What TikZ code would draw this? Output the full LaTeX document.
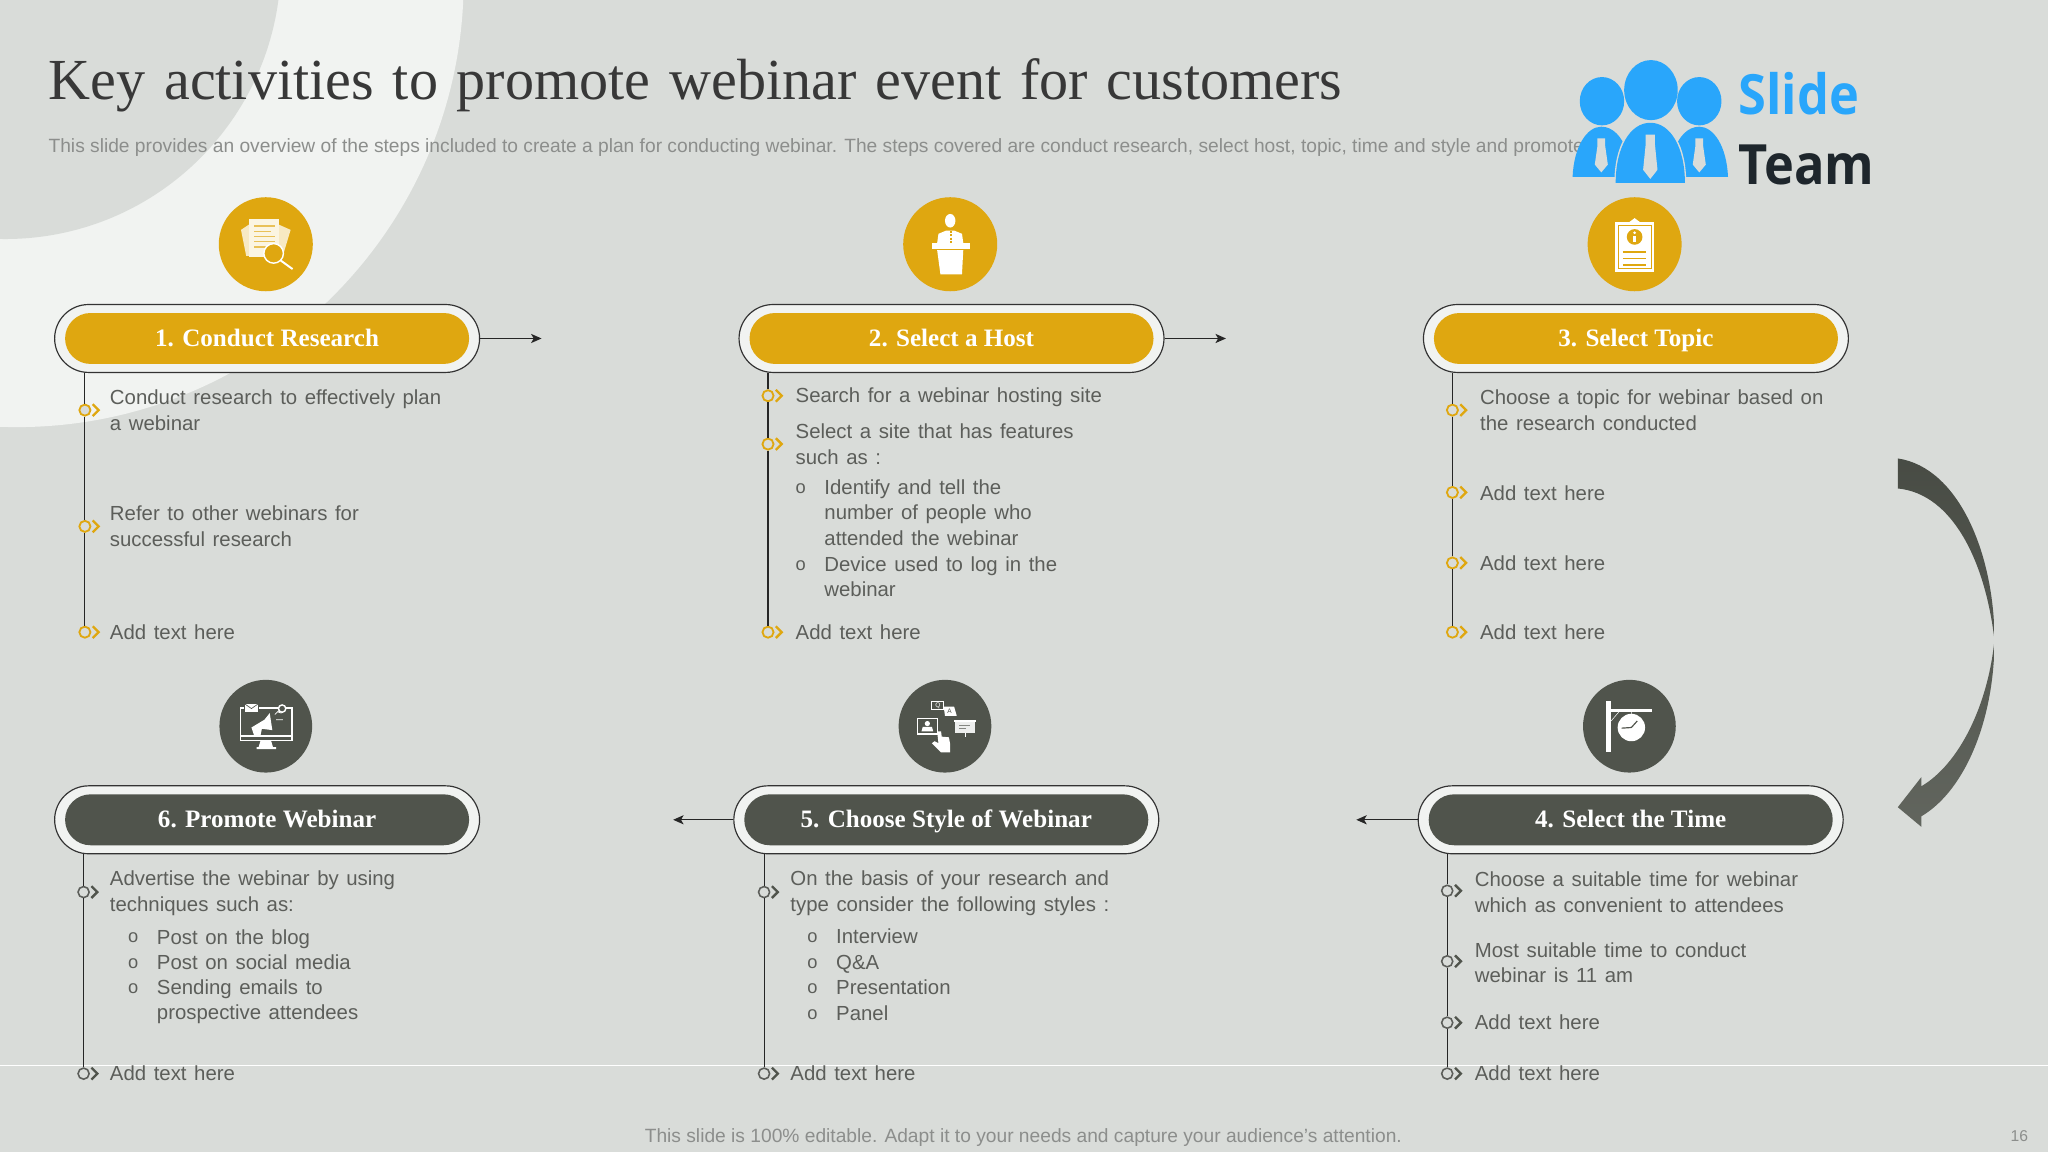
\documentclass[tikz,border=0pt]{standalone}
\usepackage{fontspec}
\setmainfont{Liberation Sans}
\newfontfamily\serifface{Liberation Serif}
\newfontfamily\logoface[FakeStretch=0.91]{Open Sans}
\usepackage{xcolor}
\usetikzlibrary{shapes.misc, arrows.meta, positioning}

\definecolor{slidebg}{HTML}{D9DCD9}
\definecolor{bandcol}{HTML}{F1F3F1}
\definecolor{goldcol}{HTML}{DFA710}
\definecolor{darkcol}{HTML}{50544C}
\definecolor{textcol}{HTML}{5C5E5A}
\definecolor{notecol}{HTML}{8C8E8C}
\definecolor{logoblue}{HTML}{29A6FB}
\definecolor{logoink}{HTML}{1E262C}

% wider word gaps than the fonts give
\newcommand{\titleface}{\serifface\fontsize{44.5}{50}\selectfont\spaceskip 14.4pt\relax}
\newcommand{\itemface}{\fontsize{15.6}{19.6}\selectfont\spaceskip 5.8pt\relax}

% ring on a rail, with its chevron
\newcommand{\railmark}[5]{
  \node[#4] (#1) at (#2,#3) {};
  \draw[#5] ([xshift=6pt,yshift=4.5pt]#1.center) -- ++(4.5,4.5) -- ++(-4.5,4.5);
}

\begin{document}
\begin{tikzpicture}[
    x=1pt, y=-1pt,
    node distance=9.5pt,
    pillout/.style={rounded rectangle, draw=black!80, line width=0.9pt, fill=bandcol, minimum width=332pt, minimum height=52pt, xshift=1pt},
    pillgold/.style={rounded rectangle, fill=goldcol, text=white, font=\serifface\bfseries\fontsize{19.2}{22}\selectfont, text height=16pt, text depth=4pt, minimum width=316pt, minimum height=39pt},
    pilldark/.style={pillgold, fill=darkcol},
    icongold/.style={circle, fill=goldcol, minimum size=72pt, inner sep=0pt},
    icondark/.style={circle, fill=darkcol, minimum size=71pt, inner sep=0pt},
    itemtext/.style={anchor=west, align=left, inner sep=0pt, text=textcol, font=\itemface},
    bullet/.style={anchor=center, inner sep=0pt, text=textcol, font=\fontsize{14}{16}\selectfont},
    ringgold/.style={circle, draw=goldcol, line width=1.4pt, fill=slidebg, minimum size=8.5pt, inner sep=0pt},
    ringdark/.style={circle, draw=textcol, line width=1.2pt, fill=slidebg, minimum size=8.5pt, inner sep=0pt},
    chevgold/.style={draw=goldcol, line width=1.8pt},
    chevdark/.style={draw=darkcol, line width=1.8pt},
    rail/.style={draw=black!85, line width=0.8pt},
    arrow/.style={-{Stealth[length=8pt,width=7pt,inset=2pt]}, draw=black!85, line width=0.9pt}
]
\useasboundingbox (0,0) rectangle (1568,882);

% Background
\fill[slidebg] (0,0) rectangle (1568,882);
\begin{scope}
\clip (0,0) rectangle (1568,882);
\fill[bandcol] (13,-15) circle (342);
\fill[slidebg] (4,-28) circle (211);
\end{scope}
\draw[white, line width=0.6pt] (0,816) -- (1568,816);

% Heading
\node[anchor=west, inner sep=0pt, font=\titleface, text=black!78] (title) at (37,65) {Key activities to promote webinar event for customers};
\node[anchor=west, inner sep=0pt, font=\fontsize{14.7}{18}\selectfont, text=notecol] (subtitle) at (37,113) {This slide provides an overview of the steps included to create a plan for conducting webinar. The steps covered are conduct research, select host, topic, time and style and promote on webinar};

% Logo
\fill[logoblue] (1226.5,77.5) ellipse (17 and 18.5);
\fill[logoblue] (1301,77.5) ellipse (17 and 18.5);
\fill[logoblue] (1204,135.5) .. controls (1205,112) and (1215,97) .. (1226,97) .. controls (1235,97) and (1242,105) .. (1245,115) -- (1245,135.5) -- cycle;
\fill[logoblue] (1323,135.5) .. controls (1322,112) and (1312,97) .. (1301,97) .. controls (1292,97) and (1285,105) .. (1282,115) -- (1282,135.5) -- cycle;
\fill[logoblue] (1264,69) ellipse (20.5 and 23);
\fill[slidebg] (1236,140) .. controls (1236,112) and (1247,93) .. (1263.5,93) .. controls (1280,93) and (1291,112) .. (1291,140) -- cycle;
\fill[logoblue] (1237,140) .. controls (1237,113) and (1248,94) .. (1263.5,94) .. controls (1279,94) and (1290,113) .. (1290,140) -- cycle;
\fill[slidebg] (1223,106) -- (1229,106) -- (1229,112) -- (1231,126) -- (1226,132) -- (1221,126) -- (1223,112) -- cycle;
\fill[slidebg] (1298,106) -- (1304,106) -- (1304,112) -- (1306,126) -- (1301,132) -- (1296,126) -- (1298,112) -- cycle;
\fill[slidebg] (1260,103) -- (1267,103) -- (1267,110) -- (1269,130) -- (1263.5,137) -- (1258,130) -- (1260,110) -- cycle;
\node[anchor=west, inner sep=0pt, font=\logoface\bfseries\fontsize{42.5}{44}\selectfont, text=logoblue] (logoa) at (1331,72) {Slide};
\node[anchor=west, inner sep=0pt, font=\logoface\bfseries\fontsize{42.5}{44}\selectfont, text=logoink] (logob) at (1331,126) {Team};

% Curved arrow
\shade[top color=darkcol!90!black, bottom color=darkcol!90!white] (1453,351) .. controls (1500,358) and (1527,425) .. (1527,490)
  .. controls (1527,550) and (1505,605) .. (1471,625) -- (1471,633) -- (1453,618) -- (1471,595) -- (1471,602)
  .. controls (1500,585) and (1522,540) .. (1527,490)
  .. controls (1520,430) and (1495,378) .. (1453,374) -- cycle;

% Upper row
\node[icongold] (icon1) at (203.5,187) {};
\node[icongold] (icon2) at (727.5,187) {};
\node[icongold] (icon3) at (1251.5,187) {};
\node[pillout, below=of icon1] (pout1) {};
\node[pillout, below=of icon2] (pout2) {};
\node[pillout, below=of icon3] (pout3) {};
\node[pillgold] (pin1) at (pout1) {1. Conduct Research};
\node[pillgold] (pin2) at (pout2) {2. Select a Host};
\node[pillgold] (pin3) at (pout3) {3. Select Topic};

% Lower row
\node[icondark] (icon6) at (203.5,556) {};
\node[icondark] (icon5) at (723.5,556) {};
\node[icondark] (icon4) at (1247.5,556) {};
\node[pillout, below=of icon6] (pout6) {};
\node[pillout, below=of icon5] (pout5) {};
\node[pillout, below=of icon4] (pout4) {};
\node[pilldark] (pin6) at (pout6) {6. Promote Webinar};
\node[pilldark] (pin5) at (pout5) {5. Choose Style of Webinar};
\node[pilldark] (pin4) at (pout4) {4. Select the Time};

% Arrow ends
\coordinate[right=47pt of pout1.east] (end1);
\coordinate[right=47pt of pout2.east] (end2);
\coordinate[left=46pt of pout5.west] (end5);
\coordinate[left=47pt of pout4.west] (end4);
\draw[arrow] (pout1.east) -- (end1);
\draw[arrow] (pout2.east) -- (end2);
\draw[arrow] (pout5.west) -- (end5);
\draw[arrow] (pout4.west) -- (end4);

% Markers on the rails
\railmark{m11}{65}{314}{ringgold}{chevgold}
\railmark{m12}{65}{403}{ringgold}{chevgold}
\railmark{m13}{65}{484}{ringgold}{chevgold}
\railmark{m21}{588}{303}{ringgold}{chevgold}
\railmark{m22}{588}{340}{ringgold}{chevgold}
\railmark{m23}{588}{484}{ringgold}{chevgold}
\railmark{m31}{1112}{314}{ringgold}{chevgold}
\railmark{m32}{1112}{377}{ringgold}{chevgold}
\railmark{m33}{1112}{431}{ringgold}{chevgold}
\railmark{m34}{1112}{484}{ringgold}{chevgold}
\railmark{m61}{64}{683}{ringdark}{chevdark}
\railmark{m62}{64}{822}{ringdark}{chevdark}
\railmark{m51}{585}{683}{ringdark}{chevdark}
\railmark{m52}{585}{822}{ringdark}{chevdark}
\railmark{m41}{1108}{682}{ringdark}{chevdark}
\railmark{m42}{1108}{736}{ringdark}{chevdark}
\railmark{m43}{1108}{783}{ringdark}{chevdark}
\railmark{m44}{1108}{822}{ringdark}{chevdark}

% Rails
\draw[rail] (pout1.south -| m13) -- (m11) (m11) -- (m12) (m12) -- (m13);
\draw[rail] (pout2.south -| m23) -- (m21) (m21) -- (m22) (m22) -- (m23);
\draw[rail] (pout3.south -| m34) -- (m31) (m31) -- (m32) (m32) -- (m33) (m33) -- (m34);
\draw[rail] (pout6.south -| m62) -- (m61) (m61) -- (m62);
\draw[rail] (pout5.south -| m52) -- (m51) (m51) -- (m52);
\draw[rail] (pout4.south -| m44) -- (m41) (m41) -- (m42) (m42) -- (m43) (m43) -- (m44);

% Step 1 text
\node[itemtext] (t11) at (84,314) {Conduct research to effectively plan\\a webinar};
\node[itemtext] (t12) at (84,403) {Refer to other webinars for\\successful research};
\node[itemtext] (t13) at (84,484) {Add text here};

% Step 2 text
\node[itemtext] (t21) at (609,304) {Search for a webinar hosting site};
\node[itemtext] (t22) at (609,340) {Select a site that has features\\such as :};
\node[bullet] (b21) at (613,374) {o};
\node[bullet] (b22) at (613,433) {o};
\node[itemtext] (t23) at (631,392.5) {Identify and tell the\\number of people who\\attended the webinar};
\node[itemtext] (t24) at (631,441.5) {Device used to log in the\\webinar};
\node[itemtext] (t25) at (609,484) {Add text here};

% Step 3 text
\node[itemtext] (t31) at (1133,314) {Choose a topic for webinar based on\\the research conducted};
\node[itemtext] (t32) at (1133,378) {Add text here};
\node[itemtext] (t33) at (1133,431) {Add text here};
\node[itemtext] (t34) at (1133,484) {Add text here};

% Step 4 text
\node[itemtext] (t41) at (1129,683) {Choose a suitable time for webinar\\which as convenient to attendees};
\node[itemtext] (t42) at (1129,737) {Most suitable time to conduct\\webinar is 11 am};
\node[itemtext] (t43) at (1129,783) {Add text here};
\node[itemtext] (t44) at (1129,822) {Add text here};

% Step 5 text
\node[itemtext] (t51) at (605,684) {On the basis of your research and\\type consider the following styles :};
\node[bullet] (b51) at (622,718) {o};
\node[bullet] (b52) at (622,738) {o};
\node[bullet] (b53) at (622,757) {o};
\node[bullet] (b54) at (622,777) {o};
\node[itemtext] (t52) at (640,717) {Interview};
\node[itemtext] (t53) at (640,738) {Q\&A};
\node[itemtext] (t54) at (640,756) {Presentation};
\node[itemtext] (t55) at (640,776) {Panel};
\node[itemtext] (t56) at (605,822) {Add text here};

% Step 6 text
\node[itemtext] (t61) at (84,684) {Advertise the webinar by using\\techniques such as:};
\node[bullet] (b61) at (102,718) {o};
\node[bullet] (b62) at (102,738) {o};
\node[bullet] (b63) at (102,757) {o};
\node[itemtext] (t62) at (120,719) {Post on the blog};
\node[itemtext] (t63) at (120,737) {Post on social media};
\node[itemtext] (t64) at (120,767) {Sending emails to\\prospective attendees};
\node[itemtext] (t65) at (84,822) {Add text here};

% Footer
\node[inner sep=0pt, font=\fontsize{14.7}{18}\selectfont, text=notecol] (footer) at (783.5,871) {This slide is 100\% editable. Adapt it to your needs and capture your audience's attention.};
\node[inner sep=0pt, font=\fontsize{12}{14}\selectfont, text=notecol] (pageno) at (1546,870) {16};

% Icon: papers and lens
\begin{scope}[shift={(icon1.center)}]
\fill[white!75!goldcol] (-13,-15) -- (-19,-11) -- (-15,9) -- (13,9) -- (19,-11) -- (10,-15) -- cycle;
\fill[white!88!goldcol] (-13,-19) rectangle (10,10);
\draw[goldcol!70, line width=1pt] (-9,-14) -- (7,-14) (-9,-10) -- (4,-10) (-9,-6) -- (7,-6) (-9,-2) -- (7,-2) (-9,2) -- (0,2);
\draw[white, line width=1.1pt, fill=goldcol] (6,7) circle (7.5);
\draw[white, line width=1.5pt] (11.5,12.5) -- (20.5,19);
\end{scope}

% Icon: host at a podium
\begin{scope}[shift={(icon2.center)}]
\fill[white] (0,-18) ellipse (4 and 5.2);
\fill[white] (-10,-1) -- (-9,-8) -- (-3,-10.5) -- (3,-10.5) -- (9,-8) -- (10,-1) -- cycle;
\draw[goldcol, line width=1pt, dash pattern=on 1.5pt off 1pt] (0.5,-10) -- (0.5,-1);
\fill[white] (-14,-1) rectangle (15,4);
\fill[white] (-10,4.5) -- (10,4.5) -- (9,23) -- (-7.5,23) -- cycle;
\end{scope}

% Icon: clipboard
\begin{scope}[shift={(icon3.center)}]
\fill[white] (-15,-17) rectangle (15,21);
\fill[white] (-4,-17) -- (0,-20) -- (4,-17) -- cycle;
\draw[goldcol, line width=0.6pt] (-12.5,-14.5) rectangle (12.5,18.5);
\fill[goldcol] (0,-5.6) circle (6);
\fill[white] (-1,-6) rectangle (1,-1.5);
\fill[white] (0,-8.8) circle (1.1);
\draw[goldcol, line width=1.3pt] (-9,6) -- (9,6) (-9,11) -- (9,11) (-9,16) -- (9,16);
\end{scope}

% Icon: hanging clock
\begin{scope}[shift={(icon4.center)}]
\fill[white] (-18,-19) rectangle (-14,20);
\fill[white] (-14,-13) rectangle (17.5,-10.5);
\draw[white, line width=0.4pt] (-14,-4) -- (-8,-11) (1.5,-11) -- (1.5,-9);
\fill[white] (1.5,1) circle (10.5);
\draw[darkcol, line width=0.9pt] (1.5,1) -- (6,-4) (1.5,1) -- (-6,1.5);
\end{scope}

% Icon: choice of webinar styles
\begin{scope}[shift={(icon5.center)}]
\draw[white, line width=0.9pt] (-21,-6) rectangle (-6,6);
\fill[white] (-13.5,-2) circle (2);
\fill[white] (-18,4) -- (-17,0.5) -- (-10,0.5) -- (-9,4) -- cycle;
\fill[white!90!darkcol] (8,-4) rectangle (23,5);
\fill[white] (7,-5) rectangle (24,-3.5);
\draw[white, line width=0.6pt] (15.5,5) -- (15.5,8);
\draw[darkcol!70, line width=0.6pt] (11,-1) -- (19,-1) (11,1.5) -- (16,1.5);
\draw[white, line width=0.8pt] (-10,-19) rectangle (-1,-12.5);
\fill[white] (-1,-15) -- (7,-15) -- (9,-8) -- (0,-8) -- cycle;
\node[font=\fontsize{5}{5}\selectfont, inner sep=0pt, text=white] (qmark) at (-5.5,-15.7) {Q};
\node[font=\fontsize{5}{5}\selectfont, inner sep=0pt, text=darkcol] (amark) at (3.5,-11.5) {A};
\fill[white] (-6,4) -- (-3,4) -- (-2.5,8) -- (3,8.5) -- (4,14) -- (4,20) -- (-3,20) -- (-10,13) -- (-8,11.5) -- (-5,13) -- cycle;
\end{scope}

% Icon: monitor with megaphone
\begin{scope}[shift={(icon6.center)}]
\draw[white, line width=1pt] (-19.6,-14) rectangle (20,11);
\draw[white, line width=0.8pt] (-19.6,7.5) -- (20,7.5);
\fill[white] (-4,11) -- (4,11) -- (5.5,16) -- (8,16) -- (8,17.5) -- (-7,17.5) -- (-7,16) -- (-5.5,16) -- cycle;
\fill[white] (-11,1) -- (-1,-5) -- (3,-10) -- (5,3) -- (-3,2) -- (-4,7) -- (-9,7) -- cycle;
\draw[white, line width=0.6pt] (7,-9) -- (10,-12) (8,-5) -- (13,-5) (9,-11) -- (12,-10);
\fill[darkcol] (-17,-17.5) rectangle (-5,-10.5);
\fill[white] (-16,-17) rectangle (-6,-11);
\draw[darkcol, line width=0.5pt] (-16,-17) -- (-11,-13.5) -- (-6,-17);
\draw[white, line width=1.1pt, fill=darkcol] (12.5,-13.5) circle (2.8);
\end{scope}

\end{tikzpicture}
\end{document}
